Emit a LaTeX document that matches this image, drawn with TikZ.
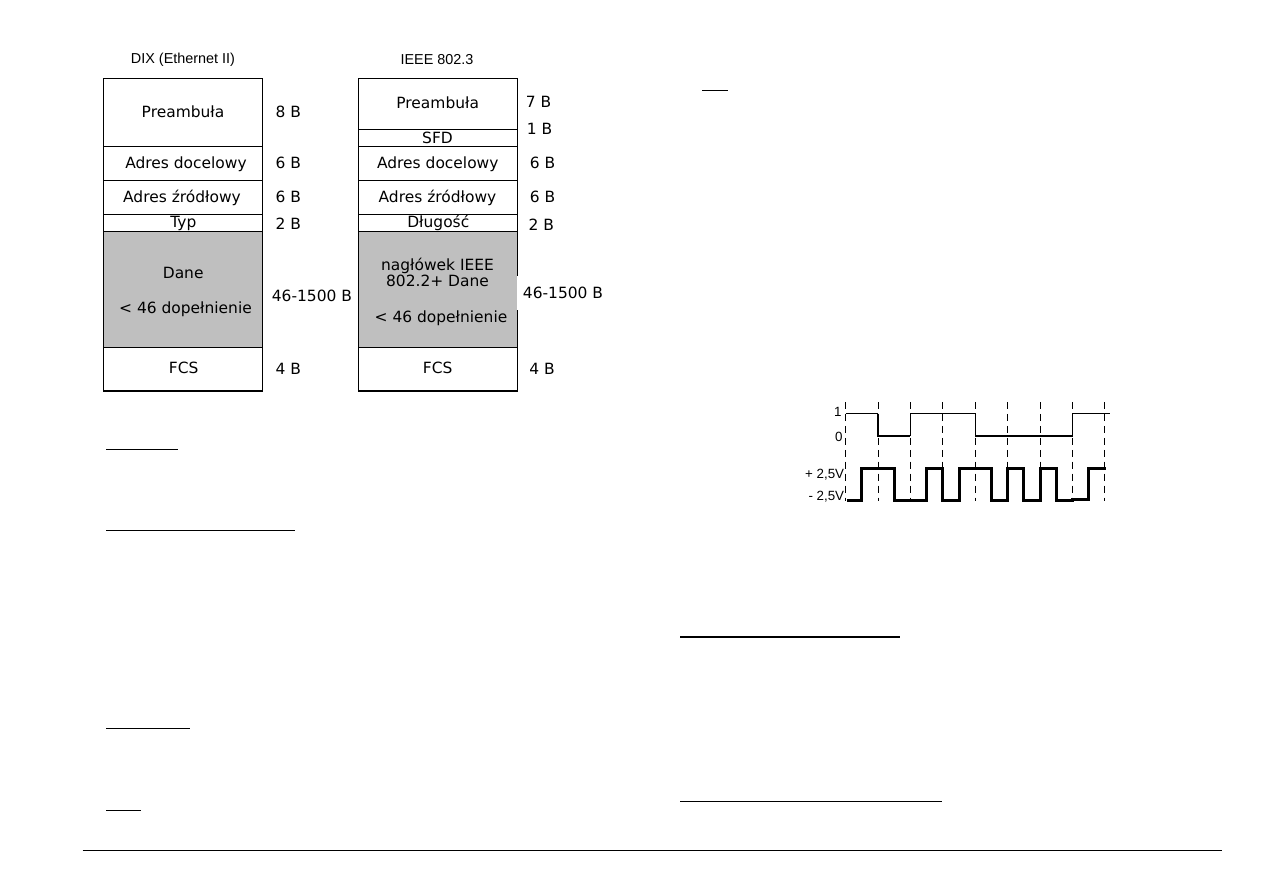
\documentclass[tikz,border=0pt]{standalone}
\usepackage{fontspec}
\setmainfont{DejaVu Sans}
\newfontfamily\arialf{Liberation Sans}
\begin{document}
\begin{tikzpicture}[x=0.02cm,y=-0.02cm,
  fld/.style={inner sep=0pt, text height=6.4pt, text depth=0pt, font=\fontsize{8.8}{10}\selectfont},
  sz/.style={fld, anchor=west},
  hd/.style={inner sep=0pt, font=\arialf\fontsize{8.2}{9}\selectfont},
  wl/.style={inner sep=0pt, anchor=east, text height=5.5pt, text depth=0pt, font=\arialf\fontsize{7.6}{8}\selectfont},
  frame/.style={draw=black, line width=0.6pt},
  sep/.style={draw=black, line width=0.55pt},
  grayfill/.style={fill=black!25},
  uline/.style={draw=black, line width=0.75pt},
  dsh/.style={draw=black, line width=0.5pt, dash pattern=on 4.2pt off 2.6pt},
  thinsig/.style={draw=black, line width=0.55pt},
  lowsig/.style={draw=black, line width=1.1pt},
  mansig/.style={draw=black, line width=1.7pt, line join=miter}
]
\useasboundingbox[fill=white] (0,0) rectangle (1263,893);

% ---------- headings ----------
\node[hd] (h1) at (183,60) {DIX (Ethernet II)};
\node[hd] (h2) at (437,60) {IEEE 802.3};

% ---------- left frame (DIX) ----------
\fill[grayfill] (103.3,231.3) rectangle (262.3,347.3);
\draw[frame] (103.3,78.5) rectangle (262.3,391);
\foreach \yy in {146.7,180.7,214.3,231.3,347.3}
  \draw[sep] (103.3,\yy) -- (262.3,\yy);

\node[fld] (l1) at (183,111.5) {Preambuła};
\node[fld] (l2) at (186,162.7) {Adres docelowy};
\node[fld] (l3) at (182,196.7) {Adres źródłowy};
\node[fld] (l4) at (183.3,221.8) {Typ};
\node[fld] (l5) at (183.2,273.3) {Dane};
\node[fld] (l6) at (185.5,307.5) {< 46 dopełnienie};
\node[fld] (l7) at (183.7,367.7) {FCS};

\node[sz] (ls1) at (275.2,111.5) {8 B};
\node[sz] (ls2) at (275.2,162.7) {6 B};
\node[sz] (ls3) at (275.2,196.7) {6 B};
\node[sz] (ls4) at (275.2,224.3) {2 B};
\node[sz] (ls5) at (271.5,296) {46-1500 B};
\node[sz] (ls6) at (275.2,369.3) {4 B};

% ---------- right frame (IEEE 802.3) ----------
\fill[grayfill] (358.3,231.3) rectangle (517.3,347.3);
\draw[frame] (358.3,78.5) rectangle (517.3,391);
\foreach \yy in {129.3,146.7,180.7,214.3,231.3,347.3}
  \draw[sep] (358.3,\yy) -- (517.3,\yy);

\node[fld] (r1) at (437.7,103.3) {Preambuła};
\node[fld] (r2) at (437.5,137.5) {SFD};
\node[fld] (r3) at (437.8,162.7) {Adres docelowy};
\node[fld] (r4) at (437.5,196.7) {Adres źródłowy};
\node[fld] (r5) at (438.3,221.8) {Długość};
\node[fld] (r6) at (437.5,265) {nagłówek IEEE};
\node[fld] (r7) at (437.5,281) {802.2+ Dane};
\node[fld] (r8) at (441,316.7) {< 46 dopełnienie};
\node[fld] (r9) at (437.7,367.7) {FCS};

\node[sz] (rs1) at (525.5,102) {7 B};
\node[sz] (rs2) at (526.5,129) {1 B};
\node[sz] (rs3) at (529.5,162.7) {6 B};
\node[sz] (rs4) at (529.5,196.7) {6 B};
\node[sz] (rs5) at (528.3,225) {2 B};
\node[sz, fill=white, inner xsep=0.12cm, minimum height=0.68cm] (rs6) at (516.6,293) {46-1500 B};
\node[sz] (rs7) at (529,369.3) {4 B};

% ---------- blank underlines ----------
\draw[uline] (702,90.3) -- (727.7,90.3);
\draw[uline] (106,449.3) -- (177.7,449.3);
\draw[uline] (106,530.7) -- (295,530.7);
\draw[uline] (106,728.3) -- (190,728.3);
\draw[uline] (106,810.3) -- (140.7,810.3);
\draw[uline] (680,637) -- (900,637);
\draw[uline] (680,801.7) -- (941.7,801.7);
\draw[draw=black, line width=0.7pt] (82.7,850.3) -- (1221.7,850.3);

% ---------- waveform ----------
\foreach \i in {0,...,8}
  \draw[dsh] ({845.7+32.4*\i},402) -- ({845.7+32.4*\i},501);

\node[wl] (w1) at (842,412) {1};
\node[wl] (w0) at (843,436.5) {0};
\node[wl] (wp) at (844.5,474) {+ 2,5V};
\node[wl] (wm) at (844.5,495.5) {- 2,5V};

% digital data
\draw[thinsig] (845.7,413.7) -- (877.6,413.7);
\draw[lowsig] (877.6,413.7) -- (877.6,435.7) -- (910.3,435.7);
\draw[thinsig] (910.3,435.7) -- (910.3,413.7) -- (975.5,413.7);
\draw[lowsig] (975.5,413.7) -- (975.5,435.7) -- (1072.5,435.7);
\draw[thinsig] (1072.5,435.7) -- (1072.5,413.7) -- (1110,413.7);

% Manchester signal
\draw[mansig] (847,500.3) -- (861.9,500.3) -- (861.9,468.3) -- (894.3,468.3)
  -- (894.3,500.3) -- (926.7,500.3) -- (926.7,468.3) -- (942.9,468.3)
  -- (942.9,500.3) -- (959.1,500.3) -- (959.1,468.3) -- (991.5,468.3)
  -- (991.5,500.3) -- (1007.7,500.3) -- (1007.7,468.3) -- (1023.9,468.3)
  -- (1023.9,500.3) -- (1040.1,500.3) -- (1040.1,468.3) -- (1056.3,468.3)
  -- (1056.3,500.3) -- (1072.5,500.3) -- (1072.5,499.3) -- (1088.7,499.3)
  -- (1088.7,468.3) -- (1106,468.3);
\end{tikzpicture}
\end{document}
